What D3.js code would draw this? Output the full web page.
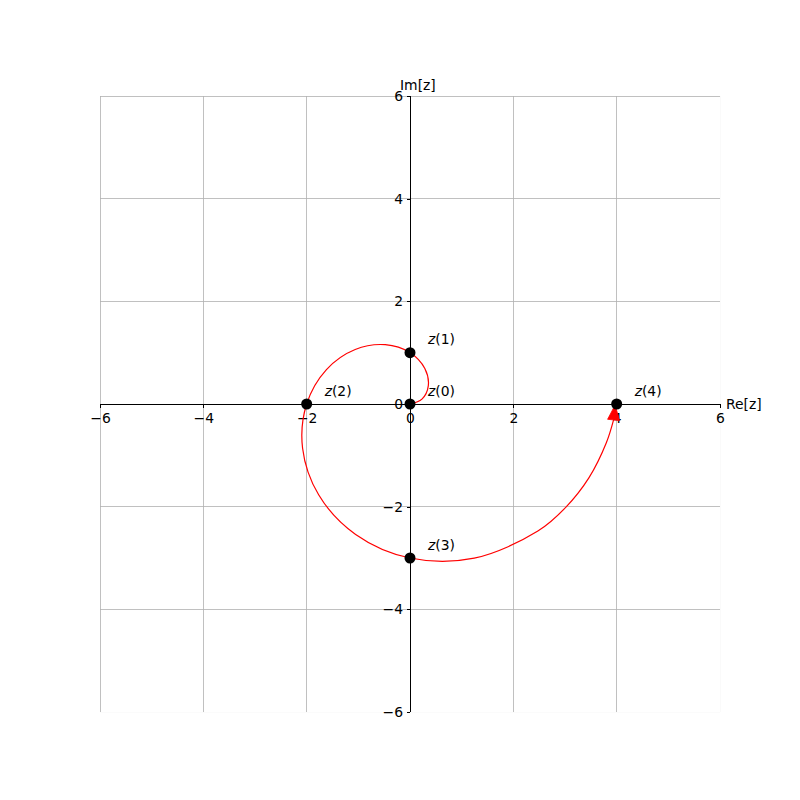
<!DOCTYPE html>
<html>
<head>
<meta charset="utf-8">
<script src="https://cdn.jsdelivr.net/npm/d3@7"></script>
<style>
  html, body { margin: 0; padding: 0; background: #fff; }
  text { font-family: "DejaVu Sans", sans-serif; font-size: 13.9px; fill: #000; }
</style>
</head>
<body>
<svg id="chart" width="800" height="800"></svg>
<script>
// ---- data ----
const tickValues = [-6, -4, -2, 0, 2, 4, 6];
const tickLabels = ["\u22126", "\u22124", "\u22122", "0", "2", "4", "6"];
// spiral path samples (Re, Im)
const curveRe = [0, 0.231, 0.354, 0.287, 0, -0.478, -1.061, -1.617, -2, -2.079, -1.768, -1.052, 0, 1.244, 2.475, 3.014, 3.465, 3.800, 3.94];
const curveIm = [0, 0.096, 0.354, 0.693, 1, 1.155, 1.061, 0.670, 0, -0.861, -1.768, -2.541, -3, -3.003, -2.475, -2.014, -1.435, -0.756, -0.31];
// arrow head tip
const arrowTip = [3.97, -0.02];
// labelled points
const pointLabels = ["z(0)", "z(1)", "z(2)", "z(3)", "z(4)"];
const pointRe = [0, 0, -2, 0, 4];
const pointIm = [0, 1, 0, -3, 0];

// ---- layout ----
const svg = d3.select("#chart");
const mL = 100, mR = 720, mT = 96, mB = 712;
const x = d3.scaleLinear().domain([-6, 6]).range([mL, mR]);
const y = d3.scaleLinear().domain([-6, 6]).range([mB, mT]);

// clip
svg.append("defs").append("clipPath").attr("id", "clip")
  .append("rect").attr("x", mL - 0.5).attr("y", mT - 0.5)
  .attr("width", mR - mL + 0.8).attr("height", mB - mT + 0.8);

// grid
const grid = svg.append("g").attr("clip-path", "url(#clip)");
const edge = d => d === -6 || d === 6;
grid.selectAll("line.gx").data(tickValues).enter().append("line")
  .attr("x1", d => x(d)).attr("x2", d => x(d))
  .attr("y1", mT).attr("y2", mB)
  .attr("stroke", d => d === 6 ? "#ececec" : "#b0b0b0").attr("stroke-width", 0.8)
  .attr("shape-rendering", "crispEdges");
grid.selectAll("line.gy").data(tickValues).enter().append("line")
  .attr("y1", d => y(d)).attr("y2", d => y(d))
  .attr("x1", mL).attr("x2", mR)
  .attr("stroke", d => d === -6 ? "#ececec" : "#b0b0b0").attr("stroke-width", 0.8)
  .attr("shape-rendering", "crispEdges");

// axes through origin
const xAxis = d3.axisBottom(x).tickValues(tickValues)
  .tickFormat((d, i) => tickLabels[i]).tickSize(3.5).tickPadding(5.5);
const yAxis = d3.axisLeft(y).tickValues(tickValues)
  .tickFormat((d, i) => tickLabels[i]).tickSize(3.5).tickPadding(3.5);

const gx = svg.append("g").attr("transform", `translate(0,${y(0)})`).call(xAxis);
const gy = svg.append("g").attr("transform", `translate(${x(0)},0)`).call(yAxis);
[gx, gy].forEach(g => {
  g.select(".domain").attr("stroke", "#000").attr("stroke-width", 1).attr("shape-rendering", "crispEdges");
  g.selectAll(".tick line").attr("stroke", "#000").attr("stroke-width", 1).attr("shape-rendering", "crispEdges");
  g.selectAll(".tick text").style("font-family", "DejaVu Sans, sans-serif")
    .style("font-size", "13.9px").attr("fill", "#000");
});
gx.select(".domain").attr("d", `M${mL},0H${mR}`);
gy.select(".domain").attr("d", `M0,${mT}V${mB}`);

// axis labels
svg.append("text").attr("x", mR + 6).attr("y", y(0)).attr("dy", "0.35em").text("Re[z]");
svg.append("text").attr("x", x(0) - 10).attr("y", mT - 6).text("Im[z]");

// curve
const pts = curveRe.map((r, i) => [r, curveIm[i]]);
const line = d3.line().x(d => x(d[0])).y(d => y(d[1])).curve(d3.curveCatmullRom.alpha(0.5));
svg.append("path").attr("d", line(pts)).attr("fill", "none")
  .attr("stroke", "#ff0000").attr("stroke-width", 1.2);

// arrow head
const last = pts[pts.length - 1];
const bx = x(last[0]), by = y(last[1]);
const tx = x(arrowTip[0]), ty = y(arrowTip[1]);
const dx = tx - bx, dy = ty - by, len = Math.hypot(dx, dy);
const nx = -dy / len, ny = dx / len, hw = 6;
svg.append("path")
  .attr("d", `M${tx},${ty}L${bx + nx * hw},${by + ny * hw}L${bx - nx * hw},${by - ny * hw}Z`)
  .attr("fill", "#ff0000").attr("stroke", "#ff0000").attr("stroke-width", 0.8);

// points
const P = pointRe.map((r, i) => ({ re: r, im: pointIm[i], label: pointLabels[i] }));
svg.selectAll("circle.pt").data(P).enter().append("circle")
  .attr("cx", d => x(d.re)).attr("cy", d => y(d.im)).attr("r", 5.5).attr("fill", "#000");

const lbl = svg.selectAll("text.pl").data(P).enter().append("text")
  .attr("x", d => x(d.re) + 18).attr("y", d => y(d.im) - 8.5);
lbl.append("tspan").style("font-style", "italic").text("z");
lbl.append("tspan").text(d => d.label.slice(1));
</script>
</body>
</html>
